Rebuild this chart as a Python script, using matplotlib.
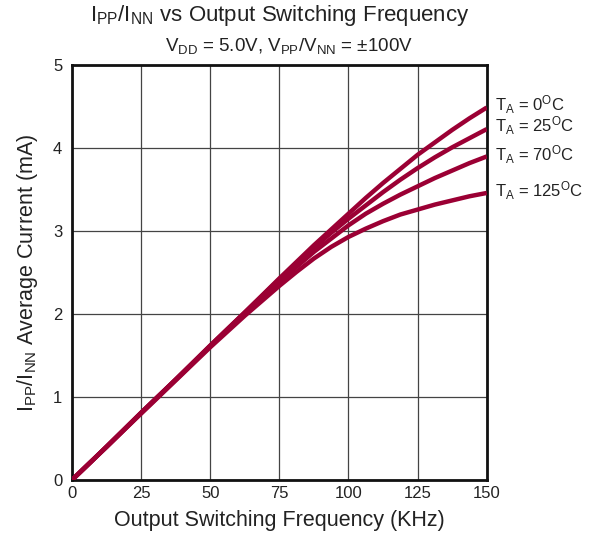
import numpy as np
import matplotlib.pyplot as plt

plt.rcParams['font.family'] = ['Liberation Sans', 'DejaVu Sans']
plt.rcParams['mathtext.fontset'] = 'custom'
plt.rcParams['mathtext.rm'] = 'Liberation Sans'
plt.rcParams['mathtext.it'] = 'Liberation Sans'

# frequency (KHz)
freq = [0, 12.5, 25, 37.5, 50, 62.5, 75, 81.25, 87.5, 93.75, 100, 106.25, 112.5,
        118.75, 125, 131.25, 137.5, 143.75, 150]
# average current (mA) per ambient temperature
i_t0 = [0, 0.40, 0.81, 1.21, 1.62, 2.02, 2.43, 2.63, 2.83, 3.02, 3.21, 3.40, 3.58,
        3.75, 3.92, 4.07, 4.22, 4.36, 4.49]
i_t25 = [0, 0.40, 0.81, 1.21, 1.62, 2.02, 2.42, 2.61, 2.80, 2.98, 3.15, 3.31, 3.47,
         3.62, 3.76, 3.89, 4.01, 4.12, 4.23]
i_t70 = [0, 0.40, 0.81, 1.21, 1.61, 2.01, 2.39, 2.57, 2.75, 2.91, 3.07, 3.21, 3.33,
         3.44, 3.54, 3.64, 3.73, 3.82, 3.90]
i_t125 = [0, 0.40, 0.80, 1.20, 1.60, 1.98, 2.34, 2.51, 2.67, 2.81, 2.93, 3.03, 3.12,
          3.20, 3.26, 3.32, 3.37, 3.42, 3.46]
series = [i_t0, i_t25, i_t70, i_t125]
temps = ['0', '25', '70', '125']
label_y = [4.53, 4.27, 3.92, 3.49]

xticks = [0, 25, 50, 75, 100, 125, 150]
yticks = [0, 1, 2, 3, 4, 5]

line_col = '#9b0034'
text_col = '#222222'

fig = plt.figure(figsize=(5.90, 5.39), dpi=100)
ax = fig.add_axes([0.122, 0.1095, 0.703, 0.7695])

for ys in series:
    ax.plot(freq, ys, color=line_col, lw=3.2, solid_capstyle='butt',
            solid_joinstyle='round', zorder=3)

ax.set_xlim(0, 150)
ax.set_ylim(0, 5)
ax.set_xticks(xticks)
ax.set_yticks(yticks)
ax.grid(True, color='#444444', lw=0.9)
ax.tick_params(length=0, labelsize=12, colors=text_col, pad=4)
ax.tick_params(axis='y', pad=7)
for s in ax.spines.values():
    s.set_linewidth(2)
    s.set_color('#111111')

for t, ly in zip(temps, label_y):
    ax.text(153.0, ly, 'T$_{\\mathregular{A}}$ = ' + t + '$^{\\mathregular{O}}$C',
            fontsize=12, color=text_col, va='center', ha='left', clip_on=False)

ax.set_xlabel('Output Switching Frequency (KHz)', fontsize=15.5, color=text_col, labelpad=7)
ax.set_ylabel('I$_{\\mathregular{PP}}$/I$_{\\mathregular{NN}}$ Average Current (mA)',
              fontsize=15.5, color=text_col, labelpad=9)

fig.text(0.475, 0.972, 'I$_{\\mathregular{PP}}$/I$_{\\mathregular{NN}}$ vs Output Switching Frequency',
         fontsize=16, color=text_col, ha='center', va='center')
fig.text(0.49, 0.915, 'V$_{\\mathregular{DD}}$ = 5.0V, V$_{\\mathregular{PP}}$/V$_{\\mathregular{NN}}$ = \u00b1100V',
         fontsize=13.5, color=text_col, ha='center', va='center')

fig.savefig('out.png', dpi=100)
